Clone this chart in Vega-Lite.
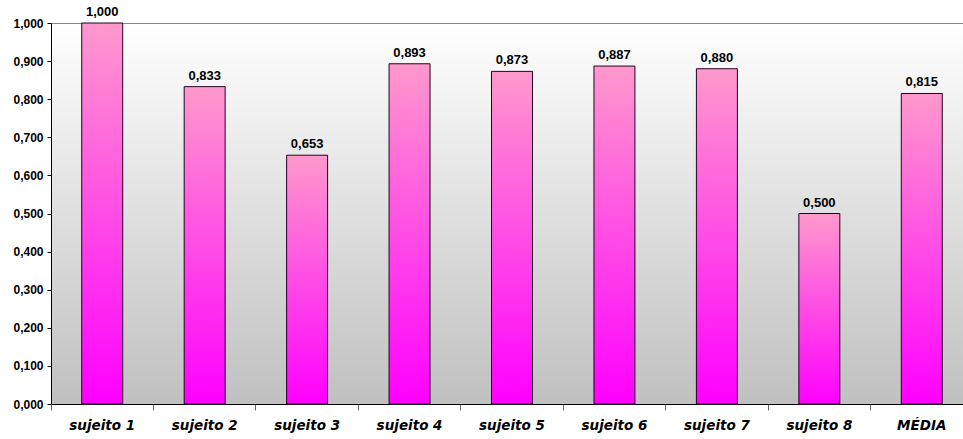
{
  "$schema": "https://vega.github.io/schema/vega-lite/v6.json",
  "width": 912,
  "height": 381,
  "autosize": "none",
  "padding": {"left": 51, "top": 23, "right": 0, "bottom": 35},
  "background": "white",
  "config": {
    "locale": {"number": {"decimal": ",", "thousands": ".", "grouping": [3], "currency": ["", ""]}},
    "view": {
      "stroke": null,
      "fill": {"gradient": "linear", "x1": 0, "y1": 0, "x2": 0, "y2": 1,
        "stops": [{"offset": 0, "color": "#ffffff"}, {"offset": 1, "color": "#c0c0c0"}]}
    },
    "font": "Liberation Sans"
  },
  "data": {"values": [
    {"sujeito": "sujeito 1", "valor": 1.000},
    {"sujeito": "sujeito 2", "valor": 0.833},
    {"sujeito": "sujeito 3", "valor": 0.653},
    {"sujeito": "sujeito 4", "valor": 0.893},
    {"sujeito": "sujeito 5", "valor": 0.873},
    {"sujeito": "sujeito 6", "valor": 0.887},
    {"sujeito": "sujeito 7", "valor": 0.880},
    {"sujeito": "sujeito 8", "valor": 0.500},
    {"sujeito": "MÉDIA", "valor": 0.815}
  ]},
  "encoding": {
    "x": {
      "field": "sujeito", "type": "nominal", "sort": null,
      "scale": {"paddingInner": 0, "paddingOuter": 0, "range": [0, 922]},
      "axis": {
        "title": null, "labelAngle": 0, "bandPosition": 0,
        "domainColor": "#000000", "domainWidth": 1,
        "tickColor": "#666666", "tickSize": 6, "tickWidth": 1,
        "labelFont": "DejaVu Sans", "labelFontSize": 13.5, "labelFontWeight": "bold", "labelFontStyle": "italic",
        "labelColor": "#000000", "labelPadding": 8, "labelBaseline": "top"
      }
    },
    "y": {
      "field": "valor", "type": "quantitative",
      "scale": {"domain": [0, 1], "nice": false},
      "axis": {
        "title": null, "format": ".3f", "values": [0, 0.1, 0.2, 0.3, 0.4, 0.5, 0.6, 0.7, 0.8, 0.9, 1.0],
        "grid": true, "gridColor": "#888888", "gridWidth": 1,
        "gridOpacity": {"condition": {"test": "datum.value >= 0.999", "value": 1}, "value": 0},
        "domainColor": "#000000", "tickColor": "#000000", "tickSize": 4,
        "labelFont": "Liberation Sans", "labelFontSize": 12, "labelFontWeight": "bold", "labelColor": "#000000",
        "labelPadding": 4
      }
    }
  },
  "layer": [
    {
      "mark": {
        "type": "bar", "width": {"band": 0.4},
        "stroke": "#220022", "strokeWidth": 1,
        "color": {"gradient": "linear", "x1": 0, "y1": 0, "x2": 0, "y2": 1,
          "stops": [{"offset": 0, "color": "#ff99cc"}, {"offset": 1, "color": "#ff00ff"}]}
      }
    },
    {
      "mark": {"type": "text", "baseline": "bottom", "dy": -4, "font": "Liberation Sans", "fontSize": 13, "fontWeight": "bold", "color": "#000000"},
      "encoding": {"text": {"field": "valor", "type": "quantitative", "format": ".3f"}}
    }
  ]
}
